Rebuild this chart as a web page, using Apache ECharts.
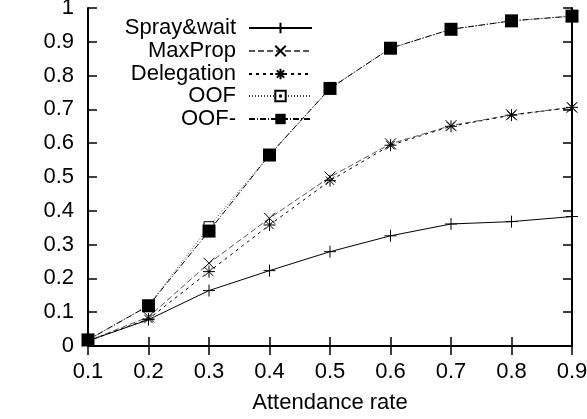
<!DOCTYPE html>
<html>
<head>
<meta charset="utf-8">
<script src="https://cdn.jsdelivr.net/npm/echarts@6/dist/echarts.min.js"></script>
<style>
html,body{margin:0;padding:0;background:#fff;}
#chart{width:587px;height:419px;}
</style>
</head>
<body>
<div id="chart"></div>
<script>
// attendance rate categories
var rates = ['0.1','0.2','0.3','0.4','0.5','0.6','0.7','0.8','0.9'];
var yTicks = [0,0.1,0.2,0.3,0.4,0.5,0.6,0.7,0.8,0.9,1];

var sprayWait  = [0.015,0.078,0.164,0.223,0.279,0.326,0.361,0.368,0.383];
var maxProp    = [0.015,0.086,0.245,0.378,0.500,0.598,0.652,0.684,0.706];
var delegation = [0.015,0.080,0.220,0.358,0.489,0.594,0.650,0.683,0.706];
var oof        = [0.018,0.120,0.353,0.565,0.762,0.881,0.937,0.962,0.976];
var oofMinus   = [0.018,0.119,0.340,0.565,0.762,0.881,0.937,0.962,0.976];

var FONT = 'Liberation Sans';
var FS = 22;

var chart = echarts.init(document.getElementById('chart'));

function mkSeries(name, data, symbol, size, lineType, lineColor, fill){
	return {
		name: name,
		type: 'line',
		data: data,
		xAxisIndex: 0,
		yAxisIndex: 0,
		symbol: symbol,
		symbolSize: size,
		showAllSymbol: true,
		clip: false,
		animation: false,
		lineStyle: {color: lineColor, width: 1, type: lineType},
		itemStyle: {color: fill, borderColor: '#000', borderWidth: 1}
	};
}

var plus  = 'path://M5,0L5,10M0,5L10,5';
var cross = 'path://M0,0L10,10M10,0L0,10';
var star  = 'path://M5,0L5,10M0,5L10,5M1.5,1.5L8.5,8.5M8.5,1.5L1.5,8.5';
var box   = 'path://M0,0L10,0L10,10L0,10ZM4.6,4.6L5.4,4.6L5.4,5.4L4.6,5.4Z';

var series = [
	mkSeries('Spray&wait', sprayWait, plus, 12, 'solid', '#000', 'transparent'),
	mkSeries('MaxProp', maxProp, cross, 11, [6,3], '#555', 'transparent'),
	mkSeries('Delegation', delegation, star, 12, [3,4], '#000', 'transparent'),
	mkSeries('OOF', oof, box, 10, [1,2], '#444', '#fff'),
	mkSeries('OOF-', oofMinus, 'rect', 13, [6,2,1,2], '#000', '#000')
];
series[4].itemStyle = {color: '#000', borderWidth: 0};

// one legend per row so the text is right-aligned against the samples
var legendRows = [29, 52, 75, 97, 120];
var legends = [];
for(var i=0;i<series.length;i++){
	legends.push({
		data: [series[i].name],
		right: 274,
		top: legendRows[i] - 12,
		align: 'right',
		orient: 'vertical',
		padding: 0,
		itemWidth: 63,
		itemHeight: 13,
		selectedMode: false,
		textStyle: {fontFamily: FONT, fontSize: FS, color: '#000', padding: [0, 8, 0, 0]}
	});
}

var option = {
	backgroundColor: '#fff',
	animation: false,
	grid: {left: 88, top: 8, right: 15, bottom: 73, outerBoundsMode: 'none'},
	legend: legends,
	xAxis: [{
		type: 'category',
		data: rates,
		boundaryGap: false,
		name: 'Attendance rate',
		nameLocation: 'middle',
		nameGap: 46,
		nameTextStyle: {fontFamily: FONT, fontSize: FS, color: '#000'},
		axisLine: {lineStyle: {color: '#000', width: 2}},
		axisTick: {inside: true, length: 9, lineStyle: {color: '#000', width: 1.5}},
		axisLabel: {fontFamily: FONT, fontSize: FS, color: '#000', margin: 15},
		splitLine: {show: false}
	},{
		type: 'category',
		data: rates,
		boundaryGap: false,
		position: 'top',
		axisLine: {lineStyle: {color: '#000', width: 2}},
		axisTick: {inside: true, length: 9, lineStyle: {color: '#000', width: 1.5}},
		axisLabel: {show: false},
		splitLine: {show: false}
	}],
	yAxis: [{
		type: 'value',
		min: yTicks[0],
		max: yTicks[yTicks.length-1],
		interval: 0.1,
		axisLine: {show: true, lineStyle: {color: '#000', width: 2}},
		axisTick: {show: true, inside: true, length: 9, lineStyle: {color: '#000', width: 1.5}},
		axisLabel: {fontFamily: FONT, fontSize: FS, color: '#000', margin: 14,
			formatter: function(v){ return String(+v.toFixed(1)); }},
		splitLine: {show: false}
	},{
		type: 'value',
		min: yTicks[0],
		max: yTicks[yTicks.length-1],
		interval: 0.1,
		position: 'right',
		axisLine: {show: true, lineStyle: {color: '#000', width: 2}},
		axisTick: {show: true, inside: true, length: 9, lineStyle: {color: '#000', width: 1.5}},
		axisLabel: {show: false},
		splitLine: {show: false}
	}],
	series: series
};

chart.setOption(option);
</script>
</body>
</html>
